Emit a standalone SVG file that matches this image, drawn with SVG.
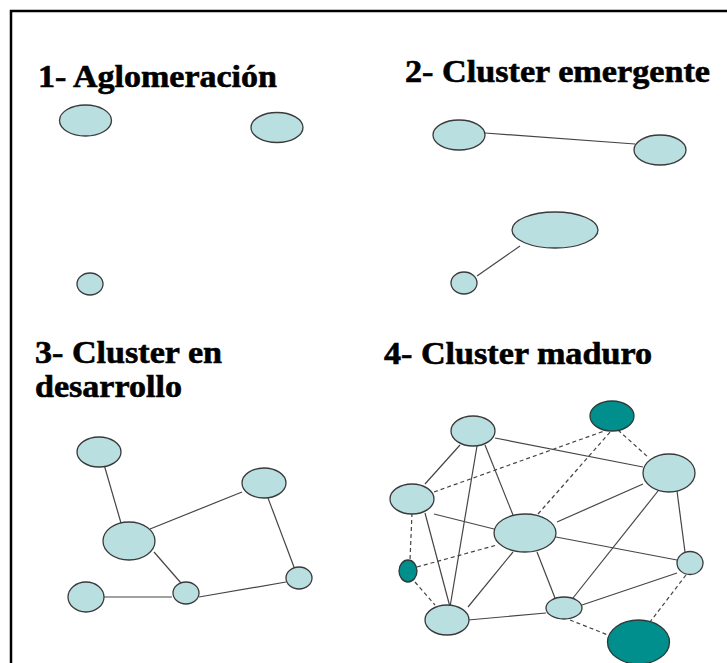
<svg xmlns="http://www.w3.org/2000/svg" width="727" height="663" viewBox="0 0 727 663">
<style>
.t{font-family:'Liberation Serif','Times New Roman',serif;font-weight:700;font-size:32px;fill:#000;stroke:#000;stroke-width:0.6}
.n{fill:#b9dfe1;stroke:#3a3a3a;stroke-width:1.3}
.d{fill:#008f8c;stroke:#2c3a3a;stroke-width:1.3}
.e{stroke:#454545;stroke-width:1.2;fill:none}
.ds{stroke:#454545;stroke-width:1.2;fill:none;stroke-dasharray:4,3}
</style>
<rect width="727" height="663" fill="#fff"/>
<path d="M11 663 V11 H727" fill="none" stroke="#000" stroke-width="2.5"/>
<g id="titles">
<text class="t" x="38" y="87" textLength="239" lengthAdjust="spacingAndGlyphs">1- Aglomeración</text>
<text class="t" x="405" y="82" textLength="305" lengthAdjust="spacingAndGlyphs">2- Cluster emergente</text>
<text class="t" x="35" y="363" textLength="187" lengthAdjust="spacingAndGlyphs">3- Cluster en</text>
<text class="t" x="35" y="397" textLength="147" lengthAdjust="spacingAndGlyphs">desarrollo</text>
<text class="t" x="384" y="364" textLength="268" lengthAdjust="spacingAndGlyphs">4- Cluster maduro</text>
</g>
<g id="connectors">
<line class="e" x1="485" y1="133" x2="635" y2="144"/>
<line class="e" x1="477" y1="276" x2="520" y2="246"/>
<line class="e" x1="103" y1="461" x2="121" y2="523"/>
<line class="e" x1="150" y1="529" x2="242" y2="492"/>
<line class="e" x1="154" y1="552" x2="181" y2="583"/>
<line class="e" x1="103" y1="597" x2="172" y2="597"/>
<line class="e" x1="199" y1="597" x2="286" y2="582"/>
<line class="e" x1="268" y1="498" x2="294" y2="567"/>
<line class="e" x1="495" y1="438" x2="643" y2="467"/>
<line class="e" x1="460" y1="445" x2="425" y2="484"/>
<line class="e" x1="477" y1="446" x2="450" y2="607"/>
<line class="e" x1="485" y1="445" x2="513" y2="515"/>
<line class="e" x1="434" y1="514" x2="494" y2="529"/>
<line class="e" x1="425" y1="513" x2="450" y2="607"/>
<line class="e" x1="557" y1="522" x2="643" y2="484"/>
<line class="e" x1="556" y1="537" x2="677" y2="560"/>
<line class="e" x1="537" y1="552" x2="555" y2="598"/>
<line class="e" x1="513" y1="552" x2="468" y2="607"/>
<line class="e" x1="677" y1="491" x2="685" y2="552"/>
<line class="e" x1="658" y1="491" x2="573" y2="598"/>
<line class="e" x1="677" y1="573" x2="582" y2="605"/>
<line class="e" x1="468" y1="620" x2="546" y2="613"/>
<line class="ds" x1="434" y1="492" x2="607" y2="430"/>
<line class="ds" x1="538" y1="514" x2="612" y2="430"/>
<line class="ds" x1="618" y1="430" x2="649" y2="458"/>
<line class="ds" x1="412" y1="513" x2="410" y2="560"/>
<line class="ds" x1="417" y1="567" x2="497" y2="545"/>
<line class="ds" x1="415" y1="582" x2="435" y2="605"/>
<line class="ds" x1="570" y1="620" x2="608" y2="635"/>
<line class="ds" x1="686" y1="575" x2="650" y2="622"/>
</g>
<g id="p1-a"><ellipse class="n" cx="85.5" cy="120.5" rx="26" ry="15.5"/></g>
<g id="p1-b"><ellipse class="n" cx="277" cy="127.5" rx="26" ry="15"/></g>
<g id="p1-c"><ellipse class="n" cx="90" cy="284" rx="13" ry="11"/></g>
<g id="p2-a"><ellipse class="n" cx="459" cy="135" rx="26" ry="15"/></g>
<g id="p2-b"><ellipse class="n" cx="660" cy="150" rx="26" ry="15"/></g>
<g id="p2-c"><ellipse class="n" cx="555" cy="230" rx="43" ry="18"/></g>
<g id="p2-d"><ellipse class="n" cx="464" cy="283" rx="13" ry="11"/></g>
<g id="p3-a"><ellipse class="n" cx="99" cy="452" rx="22" ry="15"/></g>
<g id="p3-b"><ellipse class="n" cx="129" cy="541" rx="26" ry="19"/></g>
<g id="p3-c"><ellipse class="n" cx="264" cy="483" rx="22" ry="15"/></g>
<g id="p3-d"><ellipse class="n" cx="86" cy="597" rx="18" ry="15"/></g>
<g id="p3-e"><ellipse class="n" cx="186" cy="593" rx="13" ry="11"/></g>
<g id="p3-f"><ellipse class="n" cx="299" cy="578" rx="13" ry="11"/></g>
<g id="p4-dark-top"><ellipse class="d" cx="612" cy="416" rx="22" ry="15"/></g>
<g id="p4-top"><ellipse class="n" cx="473" cy="431" rx="22" ry="15"/></g>
<g id="p4-right"><ellipse class="n" cx="669" cy="473" rx="26" ry="19"/></g>
<g id="p4-left"><ellipse class="n" cx="412" cy="499" rx="22" ry="15"/></g>
<g id="p4-center"><ellipse class="n" cx="525" cy="533" rx="31" ry="19"/></g>
<g id="p4-dark-small"><ellipse class="d" cx="408" cy="571" rx="9" ry="11"/></g>
<g id="p4-right-small"><ellipse class="n" cx="690" cy="563" rx="13" ry="11.5"/></g>
<g id="p4-bottom-left"><ellipse class="n" cx="447" cy="620" rx="22" ry="15"/></g>
<g id="p4-bottom-mid"><ellipse class="n" cx="564" cy="608" rx="18" ry="11"/></g>
<g id="p4-dark-big"><ellipse class="d" cx="638.5" cy="642" rx="31" ry="22"/></g>
</svg>
